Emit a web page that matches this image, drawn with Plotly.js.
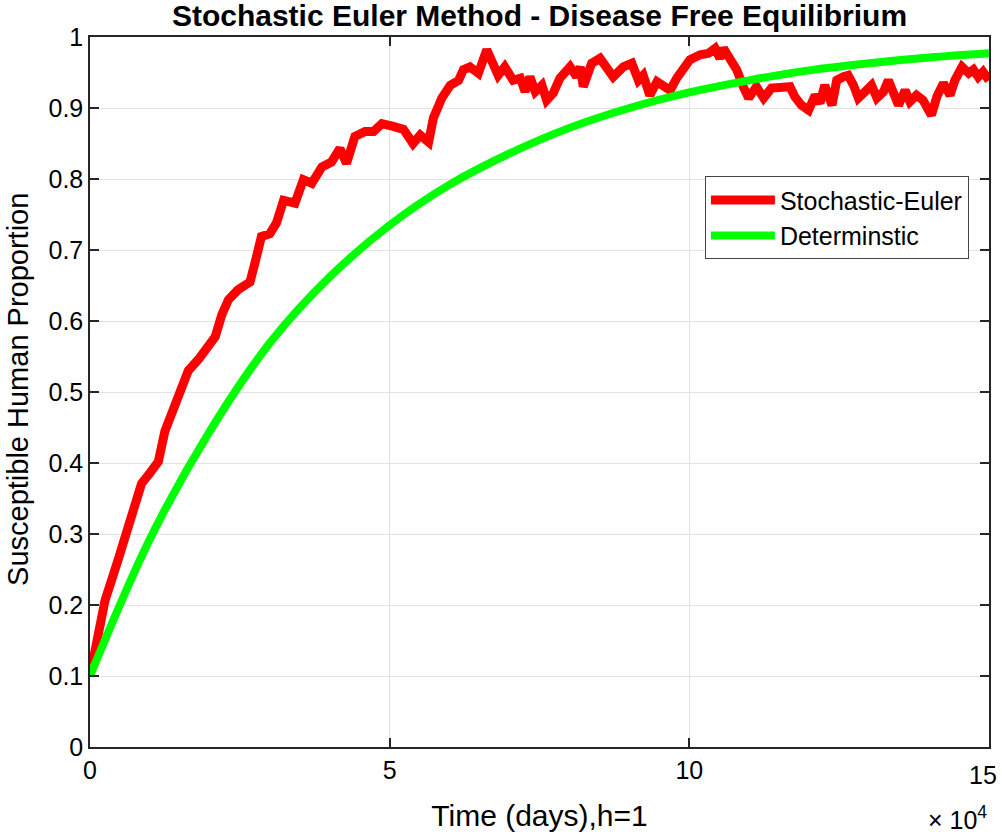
<!DOCTYPE html>
<html>
<head>
<meta charset="utf-8">
<script src="https://cdn.plot.ly/plotly-3.0.1.min.js"></script>
<style>
  body { margin: 0; background: #fff; }
  #plotArea { width: 1002px; height: 835px; }
</style>
</head>
<body>
<div id="plotArea"></div>
<script>
// time in units of 10^4 days
var timeStoch = [0, 0.25, 0.47, 0.64, 0.75, 0.86, 1.00, 1.14, 1.25, 1.39, 1.53, 1.64, 1.81, 1.97, 2.09, 2.20, 2.31, 2.47,
  2.67, 2.75, 2.86, 3.00, 3.11, 3.23, 3.42, 3.56, 3.70, 3.87, 4.03, 4.17, 4.28, 4.42, 4.59, 4.73, 4.87, 5.06,
  5.23, 5.39, 5.51, 5.65, 5.73, 5.87, 6.01, 6.15, 6.23, 6.34, 6.48, 6.62, 6.70, 6.81, 6.92, 7.06, 7.18, 7.26,
  7.34, 7.43, 7.54, 7.62, 7.73, 7.84, 8.01, 8.12, 8.18, 8.23, 8.37, 8.51, 8.73, 8.90, 9.04, 9.15, 9.23, 9.34,
  9.46, 9.57, 9.68, 9.79, 9.90, 10.01, 10.18, 10.32, 10.43, 10.51, 10.57, 10.68, 10.79, 10.90, 10.99, 11.12,
  11.24, 11.37, 11.51, 11.68, 11.76, 11.87, 11.99, 12.10, 12.18, 12.26, 12.38, 12.46, 12.57, 12.65, 12.74,
  12.82, 12.93, 13.04, 13.13, 13.24, 13.32, 13.40, 13.49, 13.60, 13.68, 13.79, 13.90, 13.99, 14.04, 14.13,
  14.24, 14.35, 14.43, 14.55, 14.66, 14.74, 14.82, 14.90, 15.00];
var stochS = [0.100, 0.206, 0.264, 0.312, 0.339, 0.371, 0.386, 0.402, 0.445, 0.477, 0.508, 0.530, 0.546, 0.567, 0.578, 0.609, 0.630, 0.644,
  0.655, 0.681, 0.719, 0.723, 0.738, 0.770, 0.766, 0.799, 0.794, 0.817, 0.824, 0.843, 0.822, 0.860, 0.867, 0.867, 0.878, 0.874,
  0.870, 0.850, 0.862, 0.852, 0.886, 0.914, 0.932, 0.939, 0.954, 0.958, 0.949, 0.982, 0.963, 0.946, 0.958, 0.939, 0.942, 0.923,
  0.944, 0.923, 0.932, 0.911, 0.921, 0.942, 0.958, 0.944, 0.958, 0.930, 0.963, 0.970, 0.944, 0.958, 0.963, 0.939, 0.946, 0.918,
  0.937, 0.932, 0.925, 0.942, 0.954, 0.968, 0.975, 0.977, 0.984, 0.970, 0.984, 0.968, 0.954, 0.930, 0.914, 0.930,
  0.914, 0.928, 0.928, 0.930, 0.916, 0.904, 0.897, 0.918, 0.907, 0.932, 0.904, 0.939, 0.944, 0.946, 0.932,
  0.914, 0.923, 0.932, 0.914, 0.923, 0.939, 0.918, 0.904, 0.925, 0.909, 0.918, 0.911, 0.897, 0.890, 0.916,
  0.935, 0.918, 0.939, 0.958, 0.949, 0.954, 0.944, 0.951, 0.939];

var timeDet = [0, 1, 2, 3, 4, 5, 6, 7, 8, 9, 10, 11, 12, 13, 14, 15];
var detS = [0.100, 0.293, 0.445, 0.569, 0.662, 0.735, 0.792, 0.836, 0.872, 0.900, 0.922, 0.939, 0.953, 0.963, 0.971, 0.977];

var xTicks = [0, 5, 10, 15];
var xTickText = ["0", "5", "10", ""];

var font = "Liberation Sans, Arial, sans-serif";

var trace = [{
    x: timeStoch,
    y: stochS,
    mode: "lines",
    name: "Stochastic-Euler",
    line: {color: "#ff0000", width: 9},
    type: "scatter"
}, {
    x: timeDet,
    y: detS,
    mode: "lines",
    name: "Determinstic",
    line: {color: "#00ff00", width: 8, shape: "spline", smoothing: 1},
    type: "scatter"
}];

var layout = {
    width: 1002,
    height: 835,
    margin: {l: 90, r: 13, t: 37, b: 88},
    paper_bgcolor: "#fff",
    plot_bgcolor: "#fff",
    font: {family: font, color: "#000"},
    title: {
        text: "<b>Stochastic Euler Method - Disease Free Equilibrium</b>",
        font: {family: font, size: 30, color: "#000"},
        x: 0.5, xref: "paper",
        y: 0.982, yref: "container", yanchor: "middle"
    },
    xaxis: {
        range: [0, 15],
        tickvals: xTicks,
        ticktext: xTickText,
        ticks: "inside", ticklen: 9, tickwidth: 1.5, tickcolor: "#262626",
        showline: true, linecolor: "#262626", linewidth: 1.5, mirror: "ticks",
        showgrid: true, gridcolor: "#e2e2e2", gridwidth: 1,
        zeroline: false,
        tickfont: {size: 25},
        title: {text: "Time (days),h=1", font: {size: 30}, standoff: 22}
    },
    yaxis: {
        range: [0, 1],
        dtick: 0.1,
        ticks: "inside", ticklen: 9, tickwidth: 1.5, tickcolor: "#262626",
        showline: true, linecolor: "#262626", linewidth: 1.5, mirror: "ticks",
        showgrid: true, gridcolor: "#e2e2e2", gridwidth: 1,
        zeroline: false,
        tickfont: {size: 25}
    },
    legend: {
        x: 0.684, y: 0.804, xanchor: "left", yanchor: "top",
        bgcolor: "#fff", bordercolor: "#444", borderwidth: 1,
        itemwidth: 64,
        font: {size: 25}
    },
    annotations: [{
        text: "Susceptible Human Proportion",
        xref: "paper", yref: "paper",
        x: -0.08, y: 0.503, xanchor: "center", yanchor: "middle",
        textangle: -90,
        showarrow: false,
        font: {size: 29}
    }, {
        text: "15",
        xref: "x", yref: "paper",
        x: 15, y: 0, xanchor: "right", yanchor: "top",
        xshift: 10, yshift: -12,
        showarrow: false,
        font: {size: 25}
    }, {
        text: "\u00d7 10<sup>4</sup>",
        xref: "paper", yref: "paper",
        x: 1.0, y: -0.125, xanchor: "right", yanchor: "bottom",
        showarrow: false,
        font: {size: 25}
    }]
};

Plotly.newPlot("plotArea", trace, layout, {displayModeBar: false});
</script>
</body>
</html>
